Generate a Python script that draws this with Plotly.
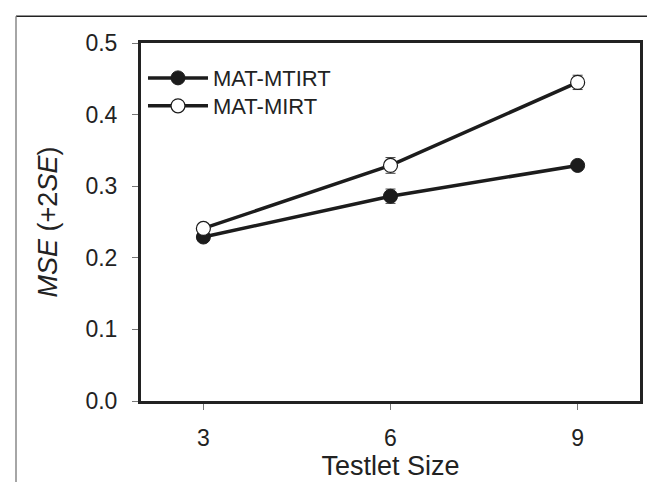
import plotly.graph_objects as go

testlet_size = [3, 6, 9]
mtirt_mse = [0.229, 0.286, 0.329]
mtirt_err = [0.004, 0.010, 0.005]
mirt_mse = [0.241, 0.329, 0.445]
mirt_err = [0.005, 0.011, 0.010]
y_ticks = [0.0, 0.1, 0.2, 0.3, 0.4, 0.5]
y_tick_labels = ["0.0", "0.1", "0.2", "0.3", "0.4", "0.5"]

FONT = "Liberation Sans, Arial, sans-serif"
line_col = "#1c1c1c"
fig = go.Figure()
fig.add_trace(go.Scatter(
    x=testlet_size, y=mtirt_mse, name="MAT-MTIRT", mode="lines+markers",
    line=dict(color=line_col, width=3.5), legend="legend",
    marker=dict(size=14, color=line_col, line=dict(color=line_col, width=1)),
    error_y=dict(type="data", array=mtirt_err, color="#444", thickness=1, width=5),
))
fig.add_trace(go.Scatter(
    x=testlet_size, y=mirt_mse, name="MAT-MIRT", mode="lines+markers",
    line=dict(color=line_col, width=3.5), legend="legend2",
    marker=dict(size=14, color="white", line=dict(color=line_col, width=1.2)),
    error_y=dict(type="data", array=mirt_err, color="#444", thickness=1, width=5),
))

tick_font = dict(family=FONT, size=23, color="#222")
title_font = dict(family=FONT, size=27, color="#222")
legend_font = dict(family=FONT, size=22, color="#222")
leg_common = dict(x=0.004, xanchor="left", yanchor="middle", bgcolor="rgba(0,0,0,0)",
                  font=legend_font, itemwidth=60)
fig.update_layout(
    width=655, height=482,
    margin=dict(l=133, r=23, t=35, b=89, autoexpand=False),
    paper_bgcolor="white", plot_bgcolor="white",
    showlegend=True,
    legend=dict(y=0.902, **leg_common),
    legend2=dict(y=0.824, **leg_common),
    xaxis=dict(range=[2, 10], tickvals=testlet_size, ticktext=[str(v) for v in testlet_size],
               showgrid=False, zeroline=False, showline=True, linecolor="#222", linewidth=3,
               mirror=True, ticks="outside", ticklen=6, tickcolor="#777", tickwidth=1,
               tickfont=tick_font, ticklabelstandoff=8, automargin=False,
               title=dict(text="Testlet Size", font=title_font, standoff=5)),
    yaxis=dict(range=[0, 0.5], tickvals=y_ticks, ticktext=y_tick_labels,
               showgrid=False, zeroline=False, showline=True, linecolor="#222", linewidth=3,
               mirror=True, ticks="outside", ticklen=6, tickcolor="#777", tickwidth=1,
               tickfont=tick_font, ticklabelstandoff=10, automargin=False,
               title=dict(text="<i>MSE</i> (+2<i>SE</i>)", font=title_font, standoff=20)),
    shapes=[
        dict(type="line", xref="paper", yref="paper", x0=-0.2505, x1=1.05, y0=1.075, y1=1.075,
             line=dict(color="#222", width=1.5)),
        dict(type="line", xref="paper", yref="paper", x0=-0.2505, x1=-0.2505, y0=1.075, y1=-0.26,
             line=dict(color="#888", width=1.5)),
    ],
)
fig.write_html("out.html")
